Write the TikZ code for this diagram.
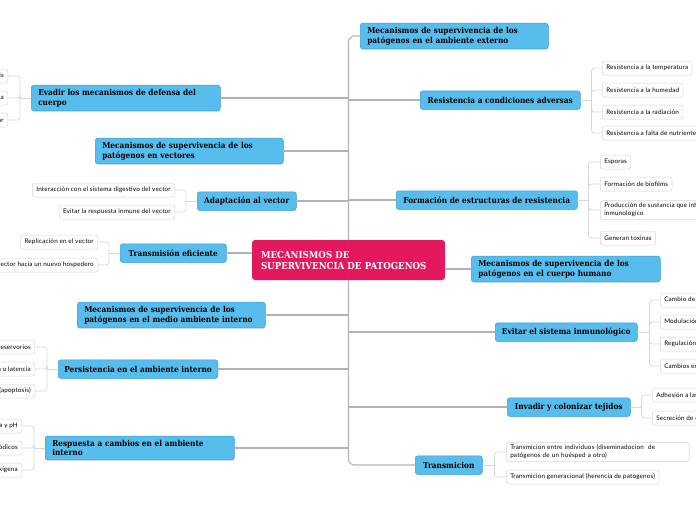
\documentclass[tikz,border=0pt]{standalone}
\usepackage{fontspec}
\usepackage{tikz}
\usetikzlibrary{shadows}
\newfontfamily\topicfont{DejaVu Serif}[FakeStretch=0.9]
\newfontfamily\leaffont{Lato}[LetterSpace=3]
\definecolor{mapblue}{RGB}{86,189,236}
\definecolor{mapblueline}{RGB}{58,160,214}
\definecolor{mappink}{RGB}{228,24,94}
\definecolor{mapline}{RGB}{178,178,178}
\definecolor{mapleaf}{RGB}{214,214,214}
\begin{document}
\begin{tikzpicture}[x=1pt,y=-1pt,line cap=round,line join=round,
 topic/.style={fill=mapblue,draw=mapblueline,line width=0.5pt,rounded corners=2.5pt,
  inner xsep=6pt,inner ysep=4pt,minimum height=18.5pt,minimum width=#1,align=left,
  font=\topicfont\bfseries\fontsize{8.2}{9.6}\selectfont,
  drop shadow={opacity=0.22,shadow xshift=0.3pt,shadow yshift=-1pt}},
 topictwo/.style={topic,inner xsep=7pt,text width=#1},
 hubbox/.style={fill=mappink,rounded corners=3pt,text=white,inner xsep=9pt,
  minimum height=40pt,text width=175pt,align=left,
  font=\topicfont\bfseries\fontsize{9.6}{11}\selectfont},
 leaf/.style={fill=white,draw=mapleaf,line width=0.5pt,rounded corners=2.5pt,
  inner xsep=4pt,inner ysep=2.5pt,minimum height=14pt,align=left,
  font=\leaffont\fontsize{6.3}{8}\selectfont},
 trunk/.style={draw=mapline,line width=1.1pt},
 twig/.style={draw=mapleaf,line width=0.7pt,rounded corners=3pt}]
 \useasboundingbox (0,0) rectangle (696,520);
 % centre
 \node[hubbox] (hub) at (348.5,260) {MECANISMOS DE\\SUPERVIVENCIA DE PATOGENOS};
 % right branch
 \node[topictwo=174pt,anchor=west] (ext) at (360,36)
  {Mecanismos de supervivencia de los\\patógenos en el ambiente externo};
 \node[topic=160pt,anchor=west] (res) at (420,100) {Resistencia a condiciones adversas};
 \node[topic=181pt,anchor=west] (form) at (396,200) {Formación de estructuras de resistencia};
 \node[topictwo=175pt,anchor=west] (hum) at (471,269)
  {Mecanismos de supervivencia de los\\patógenos en el cuerpo humano};
 \node[topic=142pt,anchor=west] (evit) at (495,332) {Evitar el sistema inmunológico};
 \node[topic=123pt,anchor=west] (inva) at (507,407) {Invadir y colonizar tejidos};
 \node[topic=67pt,anchor=west] (trans) at (415,465) {Transmicion};
 % left branch
 \node[topictwo=175pt,anchor=west] (evad) at (31,98)
  {Evadir los mecanismos de defensa del\\cuerpo};
 \node[topictwo=174pt,anchor=west] (vect) at (95,151)
  {Mecanismos de supervivencia de los\\patógenos en vectores};
 \node[topic=99pt,anchor=west] (adap) at (197,201) {Adaptación al vector};
 \node[topic=106pt,anchor=west] (tran) at (120,253) {Transmisión eficiente};
 \node[topictwo=174pt,anchor=west] (medio) at (77,315)
  {Mecanismos de supervivencia de los\\patógenos en el medio ambiente interno};
 \node[topic=159pt,anchor=west] (pers) at (58,369) {Persistencia en el ambiente interno};
 \node[topictwo=175pt,anchor=west] (resp) at (45,448)
  {Respuesta a cambios en el ambiente\\interno};

 % leaves, right
 \node[leaf,anchor=west] (res1) at (602,68) {Resistencia a la temperatura};
 \node[leaf,anchor=west] (res2) at (602,90) {Resistencia a la humedad};
 \node[leaf,anchor=west] (res3) at (602,112) {Resistencia a la radiación};
 \node[leaf,anchor=west] (res4) at (602,133) {Resistencia a falta de nutrientes};
 \node[leaf,anchor=west] (form1) at (600,162) {Esporas};
 \node[leaf,anchor=west] (form2) at (600,184) {Formación de biofilms};
 \node[leaf,anchor=west] (form3) at (600,210)
  {Producción de sustancia que inhiben el sistema\\inmunologico};
 \node[leaf,anchor=west] (form4) at (600,238) {Generan toxinas};
 \node[leaf,anchor=west] (evit1) at (660,300) {Cambio de antígenos de superficie};
 \node[leaf,anchor=west] (evit2) at (660,322) {Modulación de la respuesta inmune};
 \node[leaf,anchor=west] (evit3) at (660,344) {Regulación de la expresión génica};
 \node[leaf,anchor=west] (evit4) at (660,366) {Cambios en la estructura celular};
 \node[leaf,anchor=west] (inva1) at (652,395) {Adhesión a las células};
 \node[leaf,anchor=west] (inva2) at (652,418) {Secreción de enzimas};
 \node[leaf,anchor=west,text width=175pt] (trans1) at (506,452)
  {Transmicion entre individuos (diseminadocion\ \ de\\patógenos de un huésped a otro)};
 \node[leaf,anchor=west] (trans2) at (506,477) {Transmicion generacional (herencia de patogenos)};
 % leaves, left
 \node[leaf,anchor=east] (evad1) at (8,76) {Evasión de la fagocitosis};
 \node[leaf,anchor=east] (evad2) at (8,98) {Resistencia a la respuesta inmunitaria};
 \node[leaf,anchor=east] (evad3) at (8,120) {Evadir el reconocimiento celular};
 \node[leaf,anchor=east] (adap1) at (175,190) {Interacción con el sistema digestivo del vector};
 \node[leaf,anchor=east] (adap2) at (175,212) {Evitar la respuesta inmune del vector};
 \node[leaf,anchor=east] (tran1) at (98,242) {Replicación en el vector};
 \node[leaf,anchor=east] (tran2) at (98,265) {Salida del vector hacia un nuevo hospedero};
 \node[leaf,anchor=east] (pers1) at (35,347) {Permanencia en reservorios};
 \node[leaf,anchor=east] (pers2) at (35,369) {Estado de dormancia o latencia};
 \node[leaf,anchor=east] (pers3) at (35,391) {Evitar la muerte celular (apoptosis)};
 \node[leaf,anchor=east] (resp1) at (22,426) {Cambios de temperatura y pH};
 \node[leaf,anchor=east] (resp2) at (22,448) {Cambios periódicos};
 \node[leaf,anchor=east] (resp3) at (22,470) {Disponibilidad de oxígena};

 % trunk
 \draw[trunk,rounded corners=6pt] (hub.north) |- (ext.west);
 \draw[trunk,rounded corners=6pt] (hub.south) |- (trans.west);
 \foreach \n in {res,form,evit,inva}
  \draw[trunk] (\n.west -| hub.north) -- (\n.west);
 \foreach \n in {evad,vect,adap,medio,pers,resp}
  \draw[trunk] (\n.east) -- (\n.east -| hub.north);
 \draw[trunk] (tran.east) -- (tran.east -| hub.west);
 \draw[trunk] (hum.west -| hub.east) -- (hum.west);

 % twigs
 \foreach \p/\d/\l in {res/11/{res1,res2,res3,res4},form/11/{form1,form2,form3,form4},
   evit/12/{evit1,evit2,evit3,evit4},inva/11/{inva1,inva2},trans/12/{trans1,trans2}}{
  \coordinate (j) at ([xshift=\d pt]\p.east);
  \draw[twig] (\p.east) -- (j);
  \foreach \n in \l \draw[twig] (j) |- (\n.west);
 }
 \foreach \p/\l in {evad/{evad1,evad2,evad3},adap/{adap1,adap2},tran/{tran1,tran2},
   pers/{pers1,pers2,pers3},resp/{resp1,resp2,resp3}}{
  \coordinate (j) at ([xshift=-11pt]\p.west);
  \draw[twig] (\p.west) -- (j);
  \foreach \n in \l \draw[twig] (j) |- (\n.east);
 }
\end{tikzpicture}
\end{document}
